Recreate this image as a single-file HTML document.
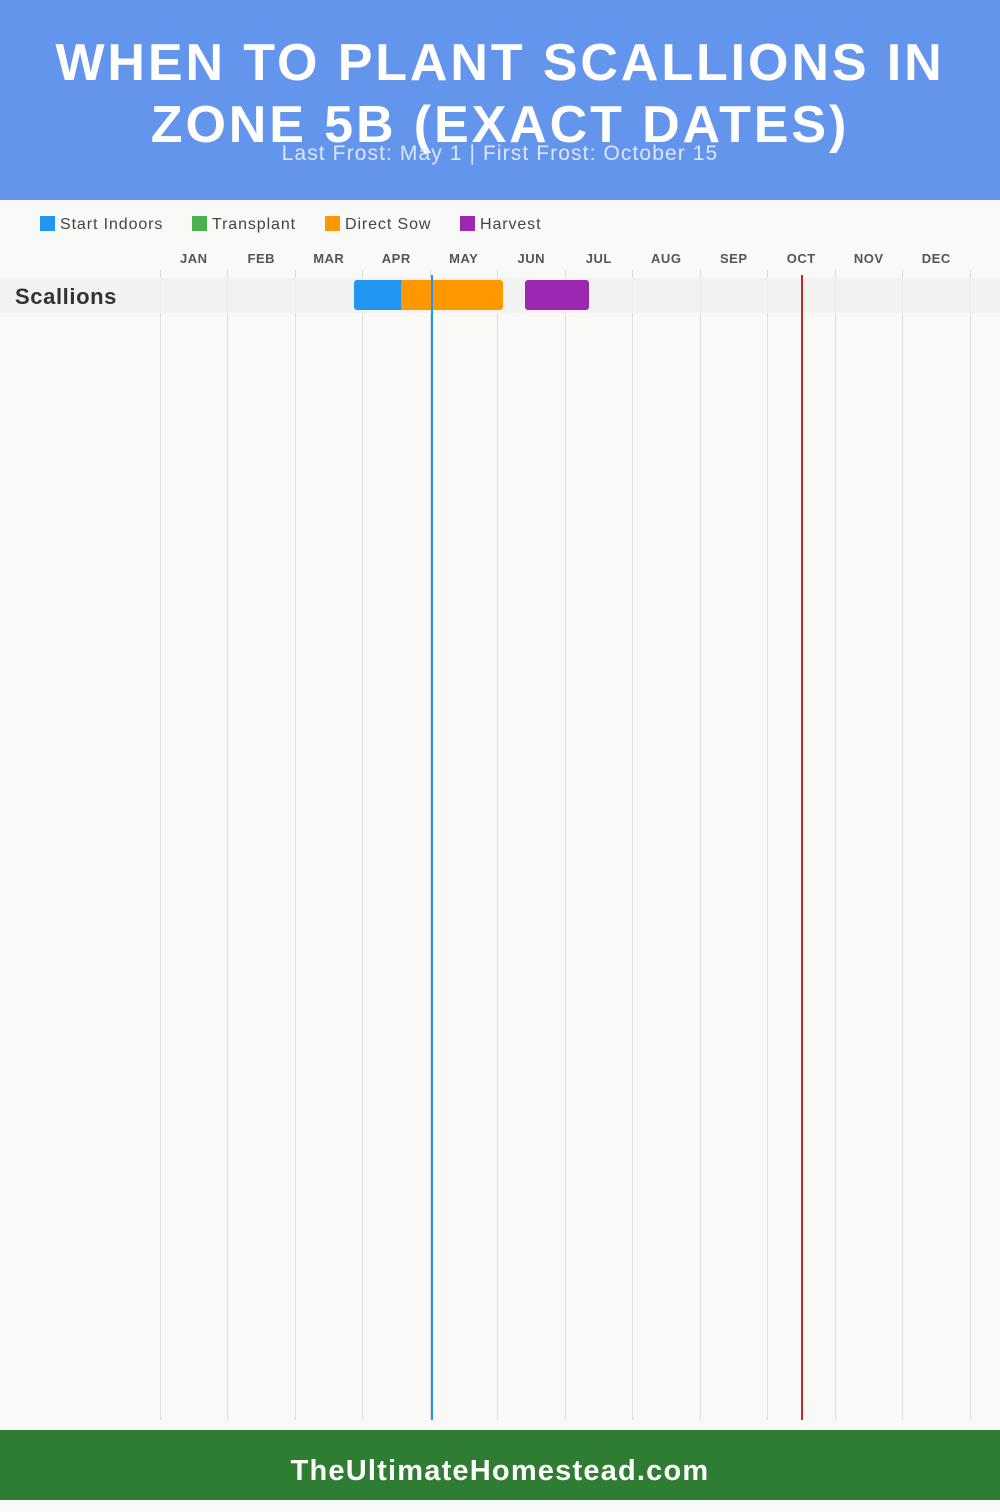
<!DOCTYPE html>
<html><head><meta charset="utf-8"><style>
body{margin:0;width:1000px;height:1500px;background:#f9f9f7;font-family:"Liberation Sans",sans-serif;position:relative;overflow:hidden}
.hdr{position:absolute;left:0;top:0;width:1000px;height:200px;background:#6495ed}
.t{position:absolute;left:0;width:1000px;text-align:center;color:#fff;font-weight:900;font-size:52px;letter-spacing:2.9px}
.sub{position:absolute;top:142px;left:0;width:1000px;text-align:center;color:#dde6fb;font-size:21px;letter-spacing:1.1px}
.leg{position:absolute;top:216px;font-size:16px;color:#444;letter-spacing:0.9px}
.sw{display:inline-block;width:15px;height:15px;vertical-align:-2px;margin-right:5px}
.m{position:absolute;top:251px;width:67.5px;text-align:center;font-size:13px;font-weight:bold;color:#555;letter-spacing:0.5px}
.g{position:absolute;top:270px;height:1150px;width:1px;background:#ddd}
.ftr{position:absolute;left:0;top:1430px;width:1000px;height:70px;background:#2e7d32;color:#fff;font-weight:bold;font-size:29px;text-align:center;line-height:82px;letter-spacing:1.2px}
.bar{position:absolute;top:280px;height:30px;border-radius:3px}
</style></head><body>
<div class="hdr"></div>
<div class="t" style="top:33px">WHEN TO PLANT SCALLIONS IN</div>
<div class="t" style="top:95px">ZONE 5B (EXACT DATES)</div>
<div class="sub">Last Frost: May 1 | First Frost: October 15</div>
<div class="leg" style="left:40px"><span class="sw" style="background:#2196f3"></span>Start Indoors</div>
<div class="leg" style="left:192px"><span class="sw" style="background:#4caf50"></span>Transplant</div>
<div class="leg" style="left:325px"><span class="sw" style="background:#ff9800"></span>Direct Sow</div>
<div class="leg" style="left:460px"><span class="sw" style="background:#9c27b0"></span>Harvest</div>
<div class="m" style="left:160px">JAN</div><div class="m" style="left:227.5px">FEB</div><div class="m" style="left:295px">MAR</div><div class="m" style="left:362.5px">APR</div><div class="m" style="left:430px">MAY</div><div class="m" style="left:497.5px">JUN</div><div class="m" style="left:565px">JUL</div><div class="m" style="left:632.5px">AUG</div><div class="m" style="left:700px">SEP</div><div class="m" style="left:767.5px">OCT</div><div class="m" style="left:835px">NOV</div><div class="m" style="left:902.5px">DEC</div>
<div class="g" style="left:160px"></div><div class="g" style="left:227px"></div><div class="g" style="left:295px"></div><div class="g" style="left:362px"></div><div class="g" style="left:430px"></div><div class="g" style="left:497px"></div><div class="g" style="left:565px"></div><div class="g" style="left:632px"></div><div class="g" style="left:700px"></div><div class="g" style="left:767px"></div><div class="g" style="left:835px"></div><div class="g" style="left:902px"></div><div class="g" style="left:970px"></div>
<div style="position:absolute;left:0;top:278px;width:1000px;height:35px;background:#f0f0ee;opacity:.8"></div>
<div style="position:absolute;left:15px;top:284px;font-size:22px;font-weight:bold;color:#333;letter-spacing:0.6px">Scallions</div>
<div class="bar" style="left:354px;width:50px;background:#2196f3"></div>
<div class="bar" style="left:401px;width:102px;background:#ff9800"></div>
<div class="bar" style="left:525px;width:64px;background:#9c27b0"></div>
<div style="position:absolute;left:431px;top:275px;width:2px;height:1145px;background:#2196f3"></div>
<div style="position:absolute;left:801px;top:275px;width:2px;height:1145px;background:#c62828"></div>
<div class="ftr">TheUltimateHomestead.com</div>
</body></html>
